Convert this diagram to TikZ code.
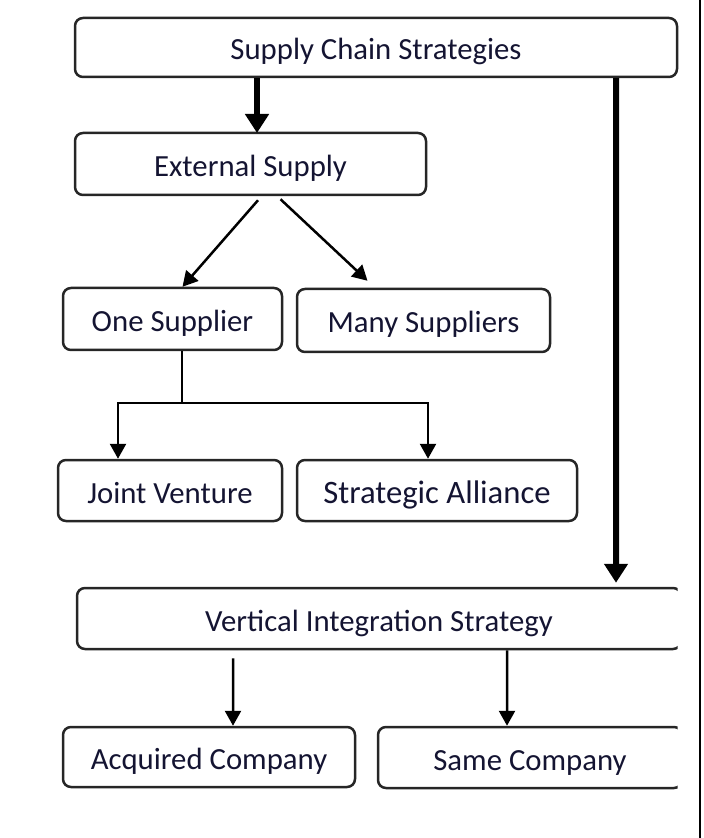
\documentclass[tikz,border=0pt]{standalone}
\usepackage{fontspec}
\setmainfont{Carlito}
\usetikzlibrary{arrows.meta}
\definecolor{labeltext}{RGB}{20,20,50}

\begin{document}
\begin{tikzpicture}
        [box/.style={draw=black!85, rounded corners=0.8mm, line width=0.25mm, inner sep=0, text=labeltext, text height=0.31cm, text depth=0.06cm, font=\fontsize{8.75pt}{10pt}\selectfont},
         arr/.style={-{Triangle[length=1.5mm, width=1.6mm]}, line width=0.25mm},
         bigarr/.style={-{Triangle[length=1.9mm, width=2.3mm]}, line width=0.6mm}]

        \useasboundingbox (0, 0) rectangle (7.03, -8.38);

        \node[box, minimum width=6.02cm, minimum height=0.59cm] (top) at (3.76, -0.475) {Supply Chain Strategies};
        \node[box, minimum width=3.51cm, minimum height=0.62cm] (ext) at (2.505, -1.64) {External Supply};
        \node[box, minimum width=2.19cm, minimum height=0.62cm] (one) at (1.725, -3.19) {One Supplier};
        \node[box, minimum width=2.53cm, minimum height=0.63cm] (many) at (4.235, -3.205) {Many Suppliers};
        \node[box, minimum width=2.24cm, minimum height=0.61cm] (jv) at (1.70, -4.905) {Joint Venture};
        \node[box, minimum width=2.80cm, minimum height=0.61cm, font=\fontsize{9.3pt}{11pt}\selectfont] (sa) at (4.37, -4.905) {Strategic Alliance};
        \node[box, minimum width=2.92cm, minimum height=0.60cm] (acq) at (2.09, -7.57) {Acquired Company};

        \begin{scope}
          \clip (0, 0) rectangle (6.775, -8.38);
          \node[box, minimum width=6.04cm, minimum height=0.61cm] (vis) at (3.79, -6.185) {Vertical Integration Strategy};
          \node[box, minimum width=3.04cm, minimum height=0.61cm] (same) at (5.30, -7.575) {Same Company};
        \end{scope}

        \coordinate (e1) at (2.57, -1.33);
        \coordinate (split) at (1.82, -4.03);

        \draw[bigarr] (top.south -| e1) -- (e1);
        \draw[bigarr] ([xshift=24mm]top.south) -- ([xshift=23.7mm, yshift=0.4mm]vis.north);
        \draw[arr] ([xshift=0.75mm, yshift=-0.4mm]ext.south) -- ([xshift=1mm]one.north);
        \draw[arr] ([xshift=3mm, yshift=-0.3mm]ext.south) -- ([xshift=-5.6mm, yshift=0.7mm]many.north);
        \draw[line width=0.25mm] (one.south -| split) -- (split);
        \draw[arr] (split) -| ([xshift=-5.2mm]jv.north);
        \draw[arr] (split) -| ([xshift=-0.9mm]sa.north);
        \draw[arr] ([xshift=-14.6mm, yshift=-0.8mm]vis.south) -- ([xshift=2.4mm]acq.north);
        \draw[arr] ([xshift=12.8mm]vis.south) -- ([xshift=-2.3mm]same.north);

        \draw[line width=0.2mm] (7.00, 0) -- (7.00, -8.38);

      \end{tikzpicture}
\end{document}
